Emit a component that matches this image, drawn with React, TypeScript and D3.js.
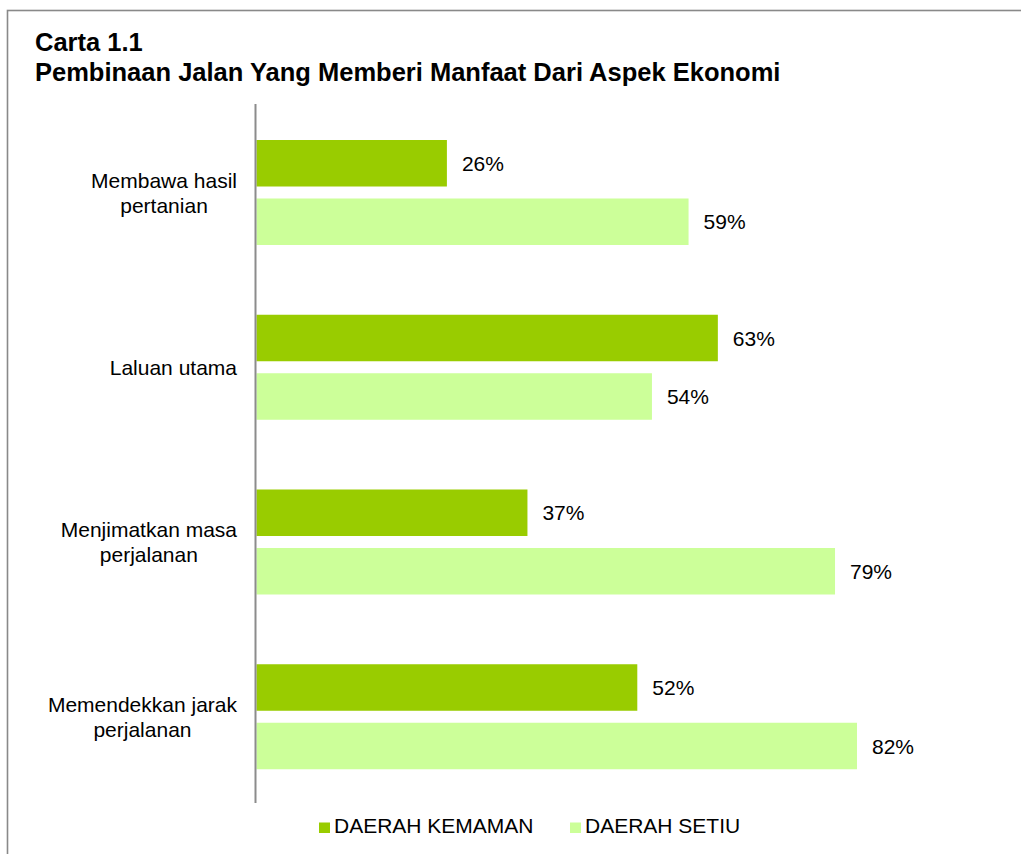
import React, { useEffect, useRef } from "react";
import * as d3 from "d3";

const categories: string[][] = [
  ["Membawa hasil", "pertanian"],
  ["Laluan utama"],
  ["Menjimatkan masa", "perjalanan"],
  ["Memendekkan jarak", "perjalanan"],
];
const seriesNames = ["DAERAH KEMAMAN", "DAERAH SETIU"];
const kemaman = [26, 63, 37, 52];
const setiu = [59, 54, 79, 82];
const colors = ["#99CC00", "#CCFF99"];
const titleLines = ["Carta 1.1", "Pembinaan Jalan Yang Memberi Manfaat Dari Aspek Ekonomi"];

const W = 1021;
const H = 854;
const FONT = "Liberation Sans, Arial, sans-serif";

export default function App() {
  const ref = useRef<SVGSVGElement | null>(null);

  useEffect(() => {
    const svg = d3.select(ref.current);
    svg.selectAll("*").remove();

    // frame
    svg.append("rect")
      .attr("x", 7.5).attr("y", 10.5)
      .attr("width", 1100).attr("height", 1000)
      .attr("fill", "#fff").attr("stroke", "#898989").attr("stroke-width", 1.6);

    // title
    svg.append("g").selectAll("text").data(titleLines).join("text")
      .attr("x", 35).attr("y", (_, i) => 51 + i * 30)
      .attr("font-family", FONT).attr("font-weight", "bold").attr("font-size", 25.5)
      .attr("fill", "#000").text((d) => d);

    const keys = categories.map((_, i) => String(i));
    const y0 = d3.scaleBand<string>().domain(keys).range([104, 803]).paddingInner(0).paddingOuter(0);
    const y1 = d3.scaleBand<string>().domain(seriesNames).range([36, 141]).paddingInner(0.205).paddingOuter(0);
    const x = d3.scaleLinear().domain([0, 100]).range([256.5, 988.8]);

    const data = categories.map((c, i) => ({ key: String(i), lines: c, values: [kemaman[i], setiu[i]] }));

    const groups = svg.append("g").selectAll("g").data(data).join("g")
      .attr("transform", (d) => `translate(0,${y0(d.key)})`);

    groups.selectAll("rect").data((d) => d.values.map((v, j) => ({ v, s: seriesNames[j], j })))
      .join("rect")
      .attr("x", x(0)).attr("y", (d) => y1(d.s)!)
      .attr("width", (d) => x(d.v) - x(0)).attr("height", y1.bandwidth())
      .attr("fill", (d) => colors[d.j]);

    groups.selectAll("text.val").data((d) => d.values.map((v, j) => ({ v, s: seriesNames[j] })))
      .join("text").attr("class", "val")
      .attr("x", (d) => x(d.v) + 15).attr("y", (d) => y1(d.s)! + y1.bandwidth() / 2)
      .attr("dy", "0.36em")
      .attr("font-family", FONT).attr("font-size", 21).attr("fill", "#000")
      .text((d) => `${d.v}%`);

    // category labels
    const labelRight = 237;
    const lineH = 25;
    data.forEach((d) => {
      const cy = (y0(d.key) as number) + y0.bandwidth() / 2 + 1.5;
      const g = svg.append("g");
      const texts = d.lines.map((ln, k) =>
        g.append("text")
          .attr("font-family", FONT).attr("font-size", 21).attr("fill", "#000")
          .attr("text-anchor", "middle")
          .attr("y", cy + (k - (d.lines.length - 1) / 2) * lineH)
          .attr("dy", "0.36em")
          .text(ln)
      );
      const widths = texts.map((t) => (t.node() as SVGTextElement).getComputedTextLength());
      const maxW = Math.max(...widths);
      texts.forEach((t) => t.attr("x", labelRight - maxW / 2));
    });

    // axis line
    svg.append("line")
      .attr("x1", 255.5).attr("x2", 255.5).attr("y1", 104).attr("y2", 803)
      .attr("stroke", "#8c8c8c").attr("stroke-width", 2);

    // legend
    const legX = [319, 570];
    const leg = svg.append("g").selectAll("g").data(seriesNames).join("g")
      .attr("transform", (_, i) => `translate(${legX[i]},0)`);
    leg.append("rect").attr("x", 0).attr("y", 822.5).attr("width", 11).attr("height", 10.5)
      .attr("fill", (_, i) => colors[i]);
    leg.append("text").attr("x", 15).attr("y", 833)
      .attr("font-family", FONT).attr("font-size", 21).attr("fill", "#000")
      .text((d) => d);
  }, []);

  return (
    <svg ref={ref} width={W} height={H}
      style={{ position: "absolute", left: 0, top: 0, display: "block", background: "#fff" }} />
  );
}
